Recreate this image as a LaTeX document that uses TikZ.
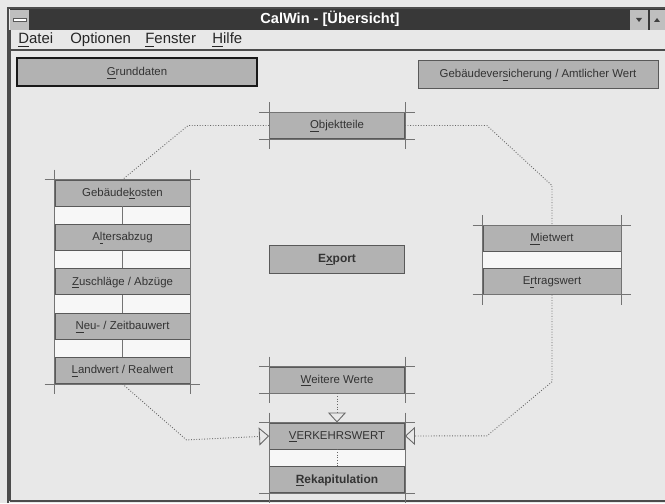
\documentclass[tikz,border=0pt]{standalone}
\usepackage{fontspec}
\setmainfont{Liberation Sans}
\usetikzlibrary{arrows.meta,positioning}

\begin{document}
\begin{tikzpicture}[
    x=0.02cm, y=-0.02cm,
    node distance=0.35cm,
    btn/.style={draw=black!65, fill=black!30, line width=0.5pt, minimum width=2.7cm, minimum height=0.52cm, inner sep=0pt, text height=5pt, text depth=1.2pt, font=\fontsize{6.5}{7}\selectfont, text=black!80},
    bigbtn/.style={btn, minimum width=4.8cm, minimum height=0.56cm},
    boldbtn/.style={btn, font=\bfseries\fontsize{6.8}{8}\selectfont},
    grid/.style={draw=black!55, line width=0.4pt},
    gap/.style={fill=black!3},
    conn/.style={draw=black!60, densely dotted, line width=0.5pt},
    arrow/.style={conn, -{Triangle[open, length=2mm, width=3.6mm]}},
    menu/.style={font=\fontsize{8.5}{9}\selectfont, text=black!85, inner sep=0pt, anchor=base west}
  ]
    % window
    \useasboundingbox (0,0) rectangle (665,503);
    \fill[black!9] (0,0) rectangle (665,503);
    \draw[black!70, line width=0.6pt] (8,503) -- (8,8) -- (665,8);
    \draw[black!70, line width=0.6pt] (10,501) -- (10,30);
    \draw[black!70, line width=0.6pt] (10,501) -- (665,501);
    \fill[black!78] (10,9) rectangle (665,30);
    \fill[black!25] (10,10) rectangle (29,30);
    \draw[black!65, fill=white] (13,18) rectangle (26,21);
    \fill[black!25] (630,10) rectangle (648,30);
    \fill[black!25] (650,10) rectangle (665,30);
    \fill[black!75] (636,18) -- (642,18) -- (639,22) -- cycle;
    \fill[black!75] (654,22) -- (660,22) -- (657,18) -- cycle;
    \node[text=white, font=\bfseries\fontsize{8.3}{9}\selectfont] (title) at (330,19) {CalWin - [Übersicht]};

    % menu
    \node[menu] (datei) at (18,44) {\underline{D}atei};
    \node[menu] (optionen) at (70,44) {O\underline{p}tionen};
    \node[menu] (fenster) at (145,44) {\underline{F}enster};
    \node[menu] (hilfe) at (212,44) {\underline{H}ilfe};
    \draw[black!70, line width=0.6pt] (10,50) -- (665,50);

    % light strips behind the button columns
    \fill[gap] (55,181) rectangle (190,380);
    \fill[gap] (483,225) rectangle (621,295);
    \fill[gap] (269,423) rectangle (405,493);

    % buttons
    \node[bigbtn, draw=black!90, line width=1.3pt] (grund) at (137,72) {\underline{G}runddaten};
    \node[bigbtn] (versich) at (538,74) {Gebäudever\underline{s}icherung / Amtlicher Wert};
    \node[btn] (objekt) at (337,125.5) {\underline{O}bjektteile};

    \node[btn] (kosten) at (122.5,193) {Gebäude\underline{k}osten};
    \node[btn, below=of kosten] (alter) {A\underline{l}tersabzug};
    \node[btn, below=of alter] (zuschlag) {\underline{Z}uschläge / Abzüge};
    \node[btn, below=of zuschlag] (neubau) {\underline{N}eu- / Zeitbauwert};
    \node[btn, below=of neubau] (landwert) {\underline{L}andwert / Realwert};

    \node[btn, minimum width=2.76cm] (miete) at (552,238.5) {\underline{M}ietwert};
    \node[btn, minimum width=2.76cm, below=0.32cm of miete] (ertrag) {E\underline{r}tragswert};

    \node[boldbtn, minimum height=0.56cm] (export) at (337,259) {E\underline{x}port};
    \node[btn] (weitere) at (337,380) {\underline{W}eitere Werte};
    \node[btn] (vkw) at (337,436) {\underline{V}ERKEHRSWERT};
    \node[boldbtn, below=0.34cm of vkw] (rekap) {\underline{R}ekapitulation};

    % frame lines
    \foreach \ga/\gb in {objekt/objekt, kosten/landwert, miete/ertrag, weitere/weitere, vkw/rekap} {
      \draw[grid] ([yshift=0.2cm]\ga.north west) -- ([yshift=-0.2cm]\gb.south west);
      \draw[grid] ([yshift=0.2cm]\ga.north east) -- ([yshift=-0.2cm]\gb.south east);
      \draw[grid] ([xshift=-0.2cm]\ga.north west) -- ([xshift=0.2cm]\ga.north east);
      \draw[grid] ([xshift=-0.2cm]\gb.south west) -- ([xshift=0.2cm]\gb.south east);
    }
    \foreach \ga/\gb in {kosten/alter, alter/zuschlag, zuschlag/neubau, neubau/landwert}
      \draw[grid] (\ga) -- (\gb);

    % connectors
    \draw[conn] (objekt.west) -- ++(-81,0) -- (kosten.north);
    \draw[conn] (objekt.east) -- ++(82,0) -- ++(65,60) -- (miete.north);
    \draw[arrow] (landwert.south) -- ++(64,56) -- (vkw.west);
    \draw[arrow] (ertrag.south) -- ++(0,87) -- ++(-65,54) -- (vkw.east);
    \draw[arrow] (weitere.south) -- (vkw.north);
    \draw[conn] (vkw.south) -- (rekap.north);
  \end{tikzpicture}
\end{document}
